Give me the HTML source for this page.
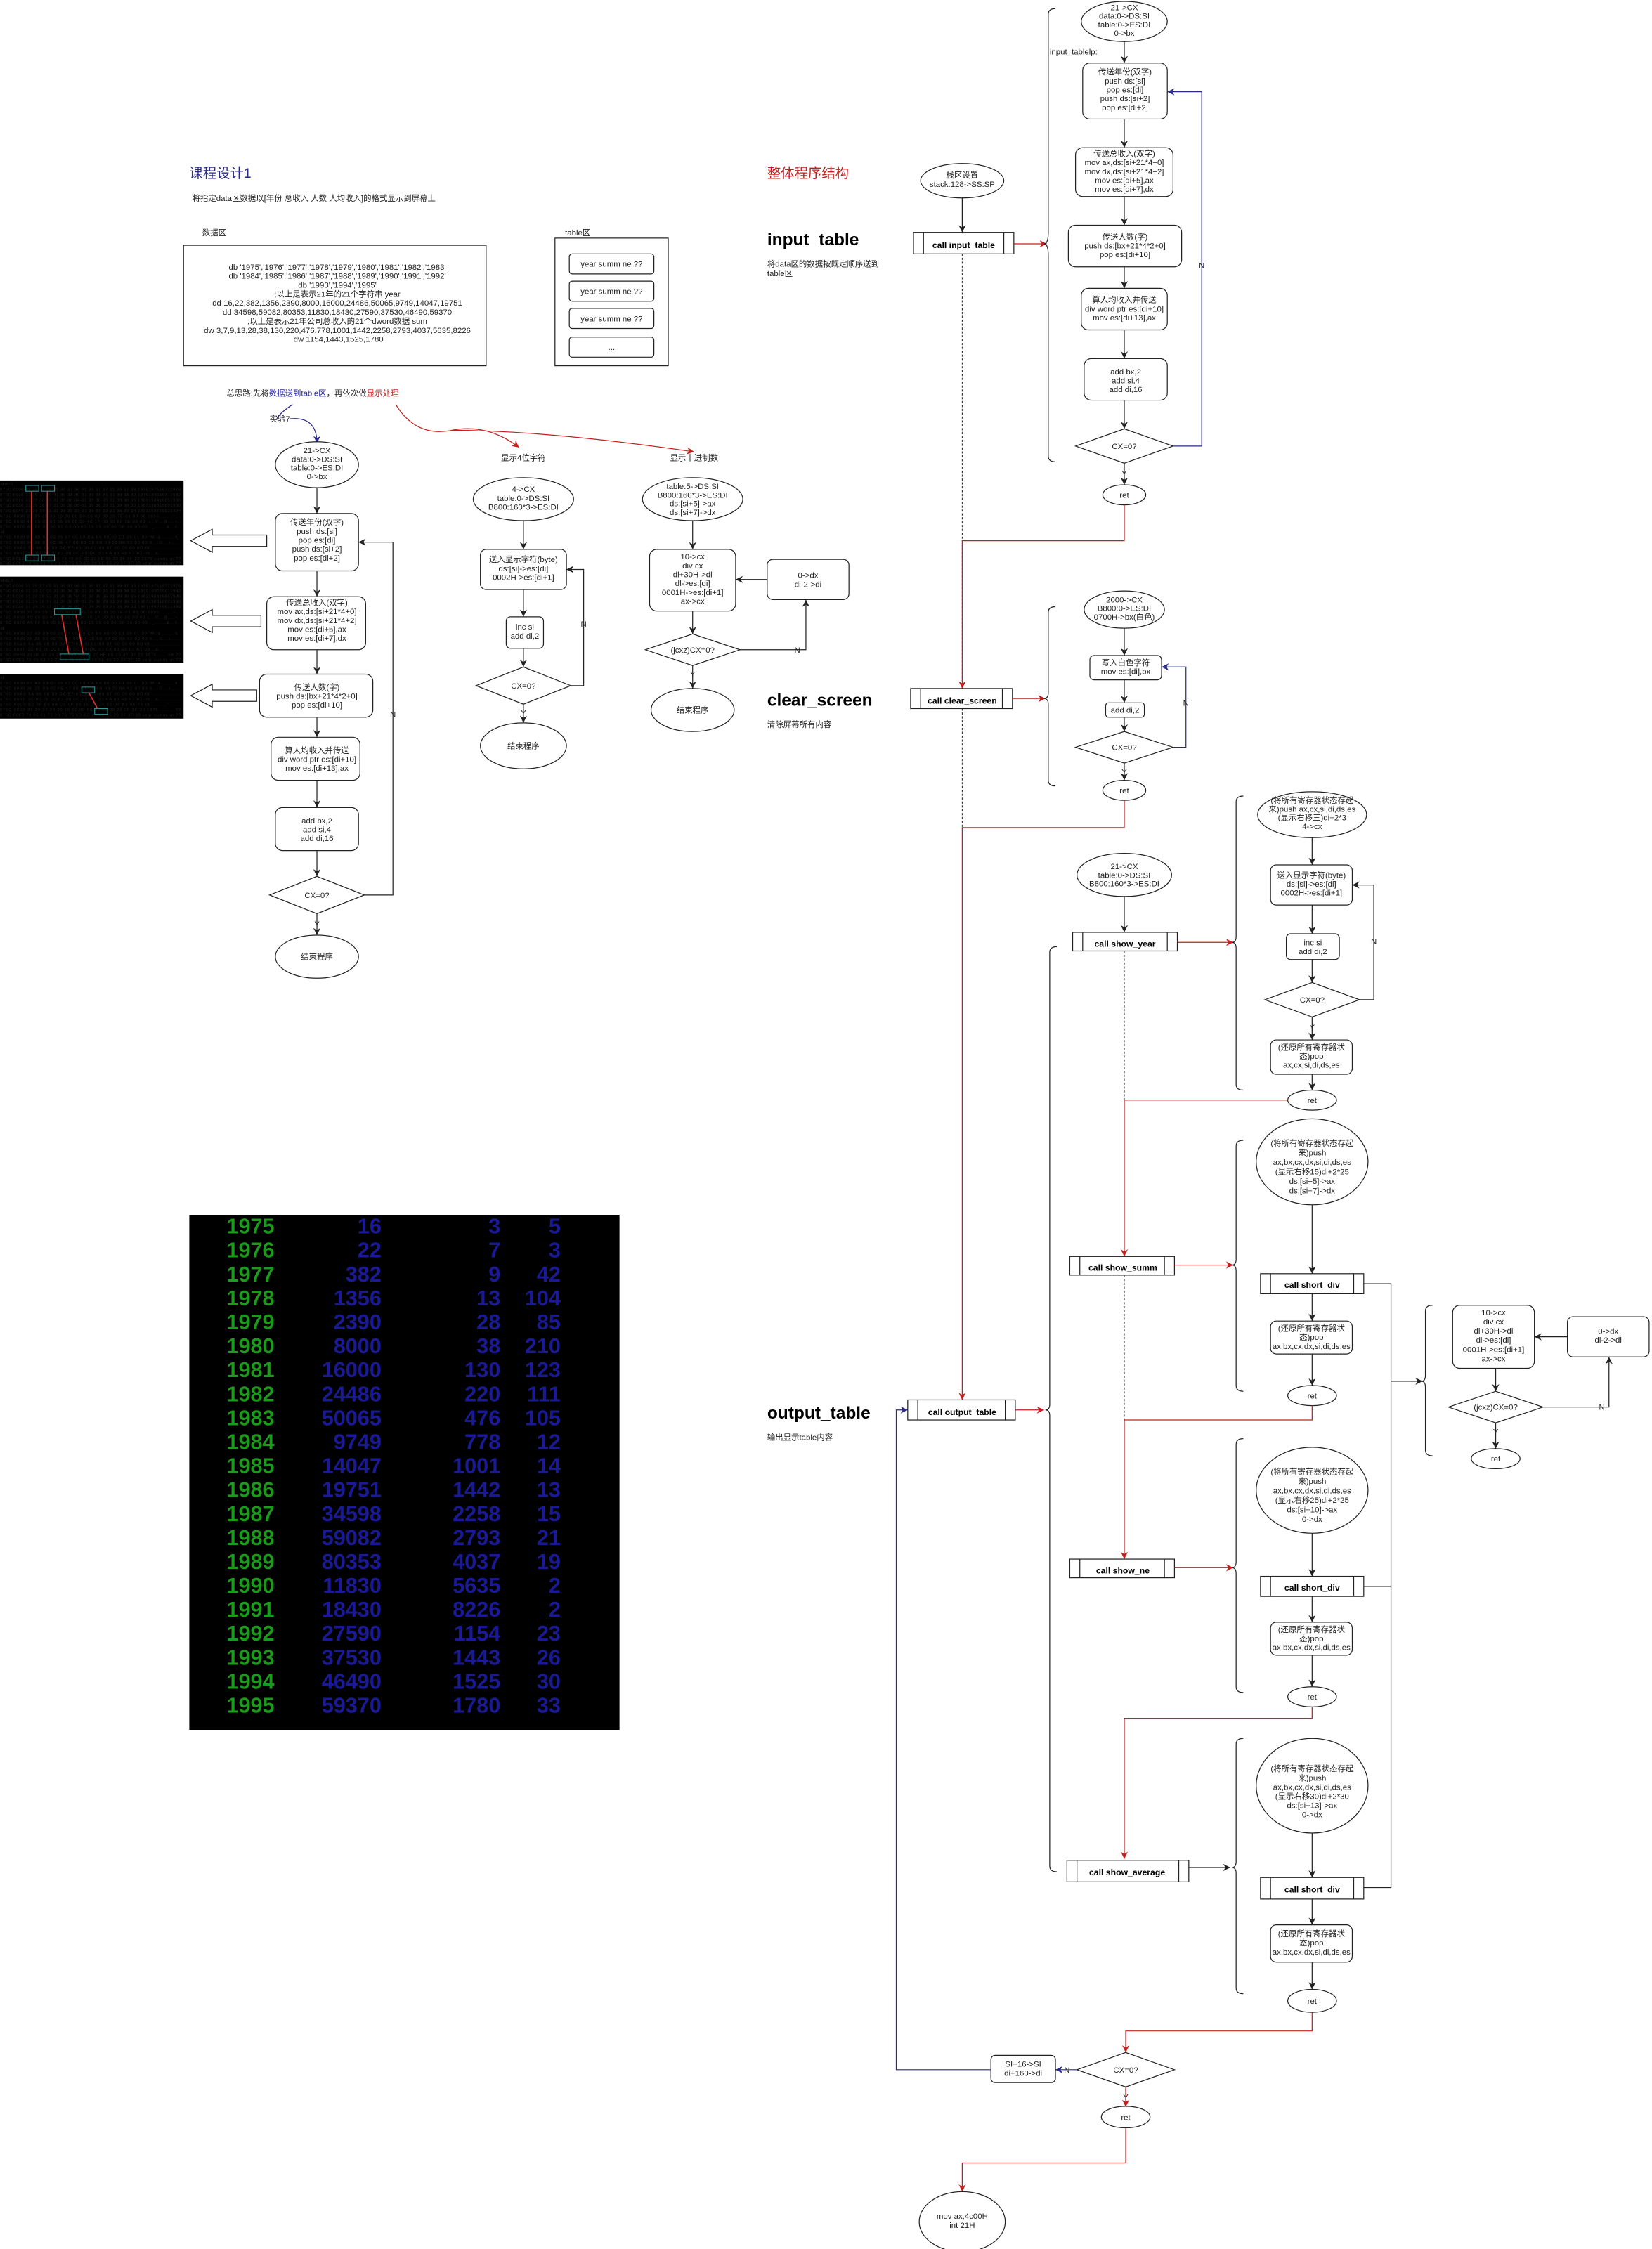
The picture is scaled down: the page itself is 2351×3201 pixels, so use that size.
<!DOCTYPE html>
<html><head><meta charset="utf-8">
<style>
html,body{margin:0;padding:0;background:#fff;}
svg{display:block;}
text{font-family:"Liberation Sans","Noto Sans CJK SC",sans-serif;fill:#222;}
.s{font-size:5.6px;}
.c{text-anchor:middle;}
.b{font-weight:bold;fill:#000;}
.box{fill:#fff;stroke:#222;stroke-width:0.6;}
.ln{fill:none;stroke:#222;stroke-width:0.6;}
.rd{fill:none;stroke:#c0201e;stroke-width:0.6;}
.bl{fill:none;stroke:#2a2a8a;stroke-width:0.6;}
.ds{fill:none;stroke:#222;stroke-width:0.5;stroke-dasharray:1.5,1.2;}
.hex{font-family:"Liberation Mono",monospace;font-size:2.9px;fill:#d8d8d8;}
.tb{font-family:"Liberation Mono",monospace;font-size:15px;font-weight:bold;}
.g{fill:#1c9a1c;}
.u{fill:#1a1a96;text-anchor:end;}
</style></head><body>
<svg width="2351" height="3201" viewBox="0 0 1152 1568" preserveAspectRatio="none" xmlns="http://www.w3.org/2000/svg">
<defs>
<marker id="ak" markerWidth="6" markerHeight="6" refX="5" refY="3" orient="auto" markerUnits="userSpaceOnUse"><path d="M0,0.5 L5,3 L0,5.5 L1.5,3z" fill="#222"/></marker>
<marker id="ar" markerWidth="6" markerHeight="6" refX="5" refY="3" orient="auto" markerUnits="userSpaceOnUse"><path d="M0,0.5 L5,3 L0,5.5 L1.5,3z" fill="#c0201e"/></marker>
<marker id="ab" markerWidth="6" markerHeight="6" refX="5" refY="3" orient="auto" markerUnits="userSpaceOnUse"><path d="M0,0.5 L5,3 L0,5.5 L1.5,3z" fill="#2a2a8a"/></marker>
</defs>

<text x="132" y="124" style="font-size:9.5px;fill:#2a2a8a">课程设计1</text>
<text x="134" y="140" class="s">将指定data区数据以[年份 总收入 人数 人均收入]的格式显示到屏幕上</text>
<text x="141" y="164" class="s">数据区</text>
<rect x="128" y="171" width="211" height="84" class="box"/>
<text class="s c" x="236" y="188">db  '1975','1976','1977','1978','1979','1980','1981','1982','1983'
<tspan x="236" dy="6.3">db  '1984','1985','1986','1987','1988','1989','1990','1991','1992'</tspan>
<tspan x="236" dy="6.3">db  '1993','1994','1995'</tspan>
<tspan x="236" dy="6.3">;以上是表示21年的21个字符串 year</tspan>
<tspan x="236" dy="6.3">dd  16,22,382,1356,2390,8000,16000,24486,50065,9749,14047,19751</tspan>
<tspan x="236" dy="6.3">dd  34598,59082,80353,11830,18430,27590,37530,46490,59370</tspan>
<tspan x="236" dy="6.3">;以上是表示21年公司总收入的21个dword数据  sum</tspan>
<tspan x="236" dy="6.3">dw  3,7,9,13,28,38,130,220,476,778,1001,1442,2258,2793,4037,5635,8226</tspan>
<tspan x="236" dy="6.3">dw  1154,1443,1525,1780</tspan></text>

<text x="394" y="164" class="s">table区</text>
<rect x="387" y="166" width="79" height="89" class="box"/>
<rect x="397" y="177" width="59" height="14" rx="2" class="box"/><text class="s c" x="426.5" y="186">year summ ne ??</text>
<rect x="397" y="196" width="59" height="14" rx="2" class="box"/><text class="s c" x="426.5" y="205">year summ ne ??</text>
<rect x="397" y="215" width="59" height="14" rx="2" class="box"/><text class="s c" x="426.5" y="224">year summ ne ??</text>
<rect x="397" y="235" width="59" height="14" rx="2" class="box"/><text class="s c" x="426.5" y="244">...</text>

<text x="158" y="276" class="s">总思路:先将<tspan style="fill:#2a2a9a">数据送到table区</tspan>，再依次做<tspan style="fill:#c0201e">显示处理</tspan></text>
<path d="M204,282 Q195,288 193,292" class="bl"/>
<text x="188" y="294" class="s">实验7</text>
<path d="M202,292 Q221,290 221,309" class="bl" marker-end="url(#ab)"/>
<path d="M276,282 Q290,305 315,300 Q340,295 362,312" class="rd" marker-end="url(#ar)"/>
<path d="M315,300 Q380,300 484,315" class="rd" marker-end="url(#ar)"/>
<text x="365" y="321" class="s c">显示4位字符</text>
<text x="484" y="321" class="s c">显示十进制数</text>

<g>
<rect x="0" y="335" width="128" height="59" fill="#000"/>
<rect x="0" y="402" width="128" height="60" fill="#000"/>
<rect x="0" y="470" width="128" height="31" fill="#000"/>
<g class="hex">
<text x="0" y="338.5">-d ds:0</text>
<text x="0" y="342.2" textLength="126">076C:0000  31 39 37 35 31 39 37 36-31 39 37 37 31 39 37 38   1975197619771978</text>
<text x="0" y="345.9" textLength="126">076C:0010  31 39 37 39 31 39 38 30-31 39 38 31 31 39 38 32   1979198019811982</text>
<text x="0" y="349.6" textLength="126">076C:0020  31 39 38 33 31 39 38 34-31 39 38 35 31 39 38 36   1983198419851986</text>
<text x="0" y="353.3" textLength="126">076C:0030  31 39 38 37 31 39 38 38-31 39 38 39 31 39 39 30   1987198819891990</text>
<text x="0" y="357" textLength="126">076C:0040  31 39 39 31 31 39 39 32-31 39 39 33 31 39 39 34   1991199219931994</text>
<text x="0" y="360.7" textLength="126">076C:0050  31 39 39 35 10 00 00 00-16 00 00 00 7E 01 00 00   1995........~...</text>
<text x="0" y="364.4" textLength="126">076C:0060  4C 05 00 00 56 09 00 00-40 1F 00 00 80 3E 00 00   L...V...@....&gt;..</text>
<text x="0" y="368.1" textLength="126">076C:0070  A6 5F 00 00 91 C3 00 00-15 26 00 00 DF 36 00 00   ._.......&amp;...6..</text>
<text x="0" y="371.8">-d</text>
<text x="0" y="375.5" textLength="126">076C:0080  27 4D 00 00 26 87 00 00-CA B6 00 00 E1 39 01 00   'M..&amp;........9..</text>
<text x="0" y="379.2" textLength="126">076C:0090  36 2E 00 00 FE 47 00 00-C6 6B 00 00 9A 92 00 00   6....G...k......</text>
<text x="0" y="382.9" textLength="126">076C:00A0  9A B5 00 00 DA E7 00 00-03 00 07 00 09 00 0D 00   ................</text>
<text x="0" y="386.6" textLength="126">076C:00B0  1C 00 26 00 82 00 DC 00-DC 01 0A 03 E9 03 A2 05   ..&amp;.............</text>
<text x="0" y="390.3" textLength="126">076C:00E0  31 39 37 35 20 73 75 6D-6D 20 6E 65 20 3F 3F 20   1975 summ ne ?? </text>
<text x="0" y="393.5" textLength="126">076C:00F0  79 65 61 72 20 73 75 6D-6D 20 6E 65 20 3F 3F 20   year summ ne ?? </text>
<text x="0" y="405.5">-d ds:0</text>
<text x="0" y="409.2" textLength="126">076C:0000  31 39 37 35 31 39 37 36-31 39 37 37 31 39 37 38   1975197619771978</text>
<text x="0" y="412.9" textLength="126">076C:0010  31 39 37 39 31 39 38 30-31 39 38 31 31 39 38 32   1979198019811982</text>
<text x="0" y="416.6" textLength="126">076C:0020  31 39 38 33 31 39 38 34-31 39 38 35 31 39 38 36   1983198419851986</text>
<text x="0" y="420.3" textLength="126">076C:0030  31 39 38 37 31 39 38 38-31 39 38 39 31 39 39 30   1987198819891990</text>
<text x="0" y="424" textLength="126">076C:0040  31 39 39 31 31 39 39 32-31 39 39 33 31 39 39 34   1991199219931994</text>
<text x="0" y="427.7" textLength="126">076C:0050  31 39 39 35 10 00 00 00-16 00 00 00 7E 01 00 00   1995........~...</text>
<text x="0" y="431.4" textLength="126">076C:0060  4C 05 00 00 56 09 00 00-40 1F 00 00 80 3E 00 00   L...V...@....&gt;..</text>
<text x="0" y="435.1" textLength="126">076C:0070  A6 5F 00 00 91 C3 00 00-15 26 00 00 DF 36 00 00   ._.......&amp;...6..</text>
<text x="0" y="438.8">-d</text>
<text x="0" y="442.5" textLength="126">076C:0080  27 4D 00 00 26 87 00 00-CA B6 00 00 E1 39 01 00   'M..&amp;........9..</text>
<text x="0" y="446.2" textLength="126">076C:0090  36 2E 00 00 FE 47 00 00-C6 6B 00 00 9A 92 00 00   6....G...k......</text>
<text x="0" y="449.9" textLength="126">076C:00A0  9A B5 00 00 DA E7 00 00-03 00 07 00 09 00 0D 00   ................</text>
<text x="0" y="453.6" textLength="126">076C:00B0  1C 00 26 00 82 00 DC 00-DC 01 0A 03 E9 03 A2 05   ..&amp;.............</text>
<text x="0" y="457.3" textLength="126">076C:00E0  31 39 37 35 20 10 00 00-00 20 6E 65 20 3F 3F 20   1975 ..... ne ??</text>
<text x="0" y="461" textLength="126">076C:00F0  79 65 61 72 20 73 75 6D-6D 20 6E 65 20 3F 3F 20   year summ ne ?? </text>
<text x="0" y="473.5">-d</text>
<text x="0" y="477.2" textLength="126">076C:0080  27 4D 00 00 26 87 00 00-CA B6 00 00 E1 39 01 00   'M..&amp;........9..</text>
<text x="0" y="480.9" textLength="126">076C:0090  36 2E 00 00 FE 47 00 00-C6 6B 00 00 9A 92 00 00   6....G...k......</text>
<text x="0" y="484.6" textLength="126">076C:00A0  9A B5 00 00 DA E7 00 00-03 00 07 00 09 00 0D 00   ................</text>
<text x="0" y="488.3" textLength="126">076C:00B0  1C 00 26 00 82 00 DC 00-DC 01 0A 03 E9 03 A2 05   ..&amp;.............</text>
<text x="0" y="492" textLength="126">076C:00C0  B2 00 E9 0A C5 0F 83 16-22 20 B2 04 A3 05 F5 05   ........" ......</text>
<text x="0" y="495.7" textLength="126">076C:00E0  31 39 37 35 20 10 00 00-00 20 03 00 20 3F 3F 20   1975 ..... .. ??</text>
<text x="0" y="499.4" textLength="126">076C:00F0  79 65 61 72 20 73 75 6D-6D 20 6E 65 20 3F 3F 20   year summ ne ?? </text>
</g>
<rect x="18" y="338.5" width="9" height="4" fill="none" stroke="#2a9a9a" stroke-width="0.5"/>
<rect x="29" y="338.5" width="9" height="4" fill="none" stroke="#2a9a9a" stroke-width="0.5"/>
<rect x="18" y="387" width="9" height="4" fill="none" stroke="#2a9a9a" stroke-width="0.5"/>
<rect x="29" y="387" width="9" height="4" fill="none" stroke="#2a9a9a" stroke-width="0.5"/>
<line x1="22" y1="342.5" x2="22" y2="387" stroke="#e03030" stroke-width="0.8"/>
<line x1="33" y1="342.5" x2="33" y2="387" stroke="#e03030" stroke-width="0.8"/>
<rect x="38" y="424.5" width="18" height="4" fill="none" stroke="#2a9a9a" stroke-width="0.5"/>
<rect x="42" y="456" width="20" height="4" fill="none" stroke="#2a9a9a" stroke-width="0.5"/>
<line x1="43" y1="428.5" x2="48" y2="456" stroke="#e03030" stroke-width="0.8"/>
<line x1="53" y1="428.5" x2="58" y2="456" stroke="#e03030" stroke-width="0.8"/>
<rect x="57" y="479" width="9" height="4" fill="none" stroke="#2a9a9a" stroke-width="0.5"/>
<rect x="66" y="494" width="9" height="4" fill="none" stroke="#2a9a9a" stroke-width="0.5"/>
<line x1="62" y1="483" x2="68" y2="494" stroke="#e03030" stroke-width="0.8"/>
</g>
<path d="M133,377 L148,369 L148,373 L186,373 L186,381 L148,381 L148,385 Z" fill="#fff" stroke="#222" stroke-width="0.6"/>
<path d="M133,433 L148,425 L148,429 L182,429 L182,437 L148,437 L148,441 Z" fill="#fff" stroke="#222" stroke-width="0.6"/>
<path d="M133,485 L148,477 L148,481 L179,481 L179,489 L148,489 L148,493 Z" fill="#fff" stroke="#222" stroke-width="0.6"/>

<ellipse cx="221" cy="324" rx="29" ry="16" class="box"/>
<text class="s c" x="221" y="316">21-&gt;CX<tspan x="221" dy="6">data:0-&gt;DS:SI</tspan><tspan x="221" dy="6">table:0-&gt;ES:DI</tspan><tspan x="221" dy="6">0-&gt;bx</tspan></text>
<line x1="221" y1="340" x2="221" y2="358" class="ln" marker-end="url(#ak)"/>
<rect x="192" y="358" width="58" height="40" rx="5" class="box"/>
<text class="s c" x="221" y="366">传送年份(双字)<tspan x="221" dy="6.2">push ds:[si]</tspan><tspan x="221" dy="6.2">pop es:[di]</tspan><tspan x="221" dy="6.2">push ds:[si+2]</tspan><tspan x="221" dy="6.2">pop es:[di+2]</tspan></text>
<line x1="221" y1="398" x2="221" y2="416" class="ln" marker-end="url(#ak)"/>
<rect x="186" y="416" width="69" height="37" rx="5" class="box"/>
<text class="s c" x="221" y="422">传送总收入(双字)<tspan x="221" dy="6.2">mov ax,ds:[si+21*4+0]</tspan><tspan x="221" dy="6.2">mov dx,ds:[si+21*4+2]</tspan><tspan x="221" dy="6.2">mov es:[di+5],ax</tspan><tspan x="221" dy="6.2">mov es:[di+7],dx</tspan></text>
<line x1="221" y1="453" x2="221" y2="470" class="ln" marker-end="url(#ak)"/>
<rect x="181" y="470" width="79" height="30" rx="5" class="box"/>
<text class="s c" x="221" y="481">传送人数(字)<tspan x="221" dy="6.2">push ds:[bx+21*4*2+0]</tspan><tspan x="221" dy="6.2">pop es:[di+10]</tspan></text>
<line x1="221" y1="500" x2="221" y2="514" class="ln" marker-end="url(#ak)"/>
<rect x="189" y="514" width="62" height="30" rx="5" class="box"/>
<text class="s c" x="221" y="525">算人均收入并传送<tspan x="221" dy="6.2">div word ptr es:[di+10]</tspan><tspan x="221" dy="6.2">mov es:[di+13],ax</tspan></text>
<line x1="221" y1="544" x2="221" y2="563" class="ln" marker-end="url(#ak)"/>
<rect x="192" y="563" width="58" height="30" rx="5" class="box"/>
<text class="s c" x="221" y="574">add bx,2<tspan x="221" dy="6.2">add si,4</tspan><tspan x="221" dy="6.2">add di,16</tspan></text>
<line x1="221" y1="593" x2="221" y2="611" class="ln" marker-end="url(#ak)"/>
<path d="M188,624 L221,611 L254,624 L221,637 Z" class="box"/>
<text class="s c" x="221" y="626">CX=0?</text>
<line x1="221" y1="637" x2="221" y2="652" class="ln" marker-end="url(#ak)"/>
<text class="s c" x="221" y="646">Y</text>
<ellipse cx="221" cy="667" rx="29" ry="15" class="box"/>
<text class="s c" x="221" y="669">结束程序</text>
<polyline points="254,624 274,624 274,378 250,378" class="ln" marker-end="url(#ak)"/>
<text class="s c" x="274" y="500">N</text>

<ellipse cx="365" cy="348" rx="35" ry="15" class="box"/>
<text class="s c" x="365" y="343">4-&gt;CX<tspan x="365" dy="6.2">table:0-&gt;DS:SI</tspan><tspan x="365" dy="6.2">B800:160*3-&gt;ES:DI</tspan></text>
<line x1="365" y1="363" x2="365" y2="383" class="ln" marker-end="url(#ak)"/>
<rect x="335" y="383" width="60" height="28" rx="4" class="box"/>
<text class="s c" x="365" y="392">送入显示字符(byte)<tspan x="365" dy="6.2">ds:[si]-&gt;es:[di]</tspan><tspan x="365" dy="6.2">0002H-&gt;es:[di+1]</tspan></text>
<line x1="365" y1="411" x2="365" y2="430" class="ln" marker-end="url(#ak)"/>
<rect x="353" y="430" width="26" height="22" rx="3" class="box"/>
<text class="s c" x="366" y="439">inc si<tspan x="366" dy="6.2">add di,2</tspan></text>
<line x1="365" y1="452" x2="365" y2="465" class="ln" marker-end="url(#ak)"/>
<path d="M332,478 L365,465 L398,478 L365,491 Z" class="box"/>
<text class="s c" x="365" y="480">CX=0?</text>
<line x1="365" y1="491" x2="365" y2="504" class="ln" marker-end="url(#ak)"/>
<text class="s c" x="365" y="499">Y</text>
<ellipse cx="365" cy="520" rx="30" ry="16" class="box"/>
<text class="s c" x="365" y="522">结束程序</text>
<polyline points="398,478 407,478 407,397 395,397" class="ln" marker-end="url(#ak)"/>
<text class="s c" x="407" y="437">N</text>

<ellipse cx="483" cy="348" rx="35" ry="15" class="box"/>
<text class="s c" x="483" y="341">table:5-&gt;DS:SI<tspan x="483" dy="6">B800:160*3-&gt;ES:DI</tspan><tspan x="483" dy="6">ds:[si+5]-&gt;ax</tspan><tspan x="483" dy="6">ds:[si+7]-&gt;dx</tspan></text>
<line x1="483" y1="363" x2="483" y2="383" class="ln" marker-end="url(#ak)"/>
<rect x="453" y="383" width="60" height="43" rx="5" class="box"/>
<text class="s c" x="483" y="390">10-&gt;cx<tspan x="483" dy="6.2">div cx</tspan><tspan x="483" dy="6.2">dl+30H-&gt;dl</tspan><tspan x="483" dy="6.2">dl-&gt;es:[di]</tspan><tspan x="483" dy="6.2">0001H-&gt;es:[di+1]</tspan><tspan x="483" dy="6.2">ax-&gt;cx</tspan></text>
<rect x="535" y="390" width="57" height="28" rx="4" class="box"/>
<text class="s c" x="563.5" y="403">0-&gt;dx<tspan x="563.5" dy="6.2">di-2-&gt;di</tspan></text>
<line x1="535" y1="404" x2="513" y2="404" class="ln" marker-end="url(#ak)"/>
<line x1="483" y1="426" x2="483" y2="442" class="ln" marker-end="url(#ak)"/>
<path d="M450,453 L483,442 L516,453 L483,464 Z" class="box"/>
<text class="s c" x="483" y="455">(jcxz)CX=0?</text>
<polyline points="516,453 562,453 562,418" class="ln" marker-end="url(#ak)"/>
<text class="s c" x="556" y="455">N</text>
<line x1="483" y1="464" x2="483" y2="480" class="ln" marker-end="url(#ak)"/>
<text class="s c" x="483" y="472">Y</text>
<ellipse cx="483" cy="495" rx="29" ry="15" class="box"/>
<text class="s c" x="483" y="497">结束程序</text>

<rect x="132" y="847" width="300" height="359" fill="#000"/>
<g class="tb">
<text class="g" x="158" y="860">1975</text><text class="u" x="266" y="860">16</text><text class="u" x="349" y="860">3</text><text class="u" x="391" y="860">5</text>
<text class="g" x="158" y="876.7">1976</text><text class="u" x="266" y="876.7">22</text><text class="u" x="349" y="876.7">7</text><text class="u" x="391" y="876.7">3</text>
<text class="g" x="158" y="893.4">1977</text><text class="u" x="266" y="893.4">382</text><text class="u" x="349" y="893.4">9</text><text class="u" x="391" y="893.4">42</text>
<text class="g" x="158" y="910.1">1978</text><text class="u" x="266" y="910.1">1356</text><text class="u" x="349" y="910.1">13</text><text class="u" x="391" y="910.1">104</text>
<text class="g" x="158" y="926.8">1979</text><text class="u" x="266" y="926.8">2390</text><text class="u" x="349" y="926.8">28</text><text class="u" x="391" y="926.8">85</text>
<text class="g" x="158" y="943.5">1980</text><text class="u" x="266" y="943.5">8000</text><text class="u" x="349" y="943.5">38</text><text class="u" x="391" y="943.5">210</text>
<text class="g" x="158" y="960.2">1981</text><text class="u" x="266" y="960.2">16000</text><text class="u" x="349" y="960.2">130</text><text class="u" x="391" y="960.2">123</text>
<text class="g" x="158" y="976.9">1982</text><text class="u" x="266" y="976.9">24486</text><text class="u" x="349" y="976.9">220</text><text class="u" x="391" y="976.9">111</text>
<text class="g" x="158" y="993.6">1983</text><text class="u" x="266" y="993.6">50065</text><text class="u" x="349" y="993.6">476</text><text class="u" x="391" y="993.6">105</text>
<text class="g" x="158" y="1010.3">1984</text><text class="u" x="266" y="1010.3">9749</text><text class="u" x="349" y="1010.3">778</text><text class="u" x="391" y="1010.3">12</text>
<text class="g" x="158" y="1027">1985</text><text class="u" x="266" y="1027">14047</text><text class="u" x="349" y="1027">1001</text><text class="u" x="391" y="1027">14</text>
<text class="g" x="158" y="1043.7">1986</text><text class="u" x="266" y="1043.7">19751</text><text class="u" x="349" y="1043.7">1442</text><text class="u" x="391" y="1043.7">13</text>
<text class="g" x="158" y="1060.4">1987</text><text class="u" x="266" y="1060.4">34598</text><text class="u" x="349" y="1060.4">2258</text><text class="u" x="391" y="1060.4">15</text>
<text class="g" x="158" y="1077.1">1988</text><text class="u" x="266" y="1077.1">59082</text><text class="u" x="349" y="1077.1">2793</text><text class="u" x="391" y="1077.1">21</text>
<text class="g" x="158" y="1093.8">1989</text><text class="u" x="266" y="1093.8">80353</text><text class="u" x="349" y="1093.8">4037</text><text class="u" x="391" y="1093.8">19</text>
<text class="g" x="158" y="1110.5">1990</text><text class="u" x="266" y="1110.5">11830</text><text class="u" x="349" y="1110.5">5635</text><text class="u" x="391" y="1110.5">2</text>
<text class="g" x="158" y="1127.2">1991</text><text class="u" x="266" y="1127.2">18430</text><text class="u" x="349" y="1127.2">8226</text><text class="u" x="391" y="1127.2">2</text>
<text class="g" x="158" y="1143.9">1992</text><text class="u" x="266" y="1143.9">27590</text><text class="u" x="349" y="1143.9">1154</text><text class="u" x="391" y="1143.9">23</text>
<text class="g" x="158" y="1160.6">1993</text><text class="u" x="266" y="1160.6">37530</text><text class="u" x="349" y="1160.6">1443</text><text class="u" x="391" y="1160.6">26</text>
<text class="g" x="158" y="1177.3">1994</text><text class="u" x="266" y="1177.3">46490</text><text class="u" x="349" y="1177.3">1525</text><text class="u" x="391" y="1177.3">30</text>
<text class="g" x="158" y="1194">1995</text><text class="u" x="266" y="1194">59370</text><text class="u" x="349" y="1194">1780</text><text class="u" x="391" y="1194">33</text>
</g>

<text x="535" y="124" style="font-size:9.5px;fill:#c0201e">整体程序结构</text>
<text x="535" y="171" class="b" style="font-size:12px">input_table</text>
<text x="535" y="186" class="s">将data区的数据按既定顺序送到<tspan x="535" dy="6.5">table区</tspan></text>
<text x="535" y="492" class="b" style="font-size:12px">clear_screen</text>
<text x="535" y="507" class="s">清除屏幕所有内容</text>
<text x="535" y="989" class="b" style="font-size:12px">output_table</text>
<text x="535" y="1004" class="s">输出显示table内容</text>

<ellipse cx="671" cy="126" rx="29" ry="12" class="box"/>
<text class="s c" x="671" y="124">栈区设置<tspan x="671" dy="6.3">stack:128-&gt;SS:SP</tspan></text>
<line x1="671" y1="138" x2="671" y2="162" class="ln" marker-end="url(#ak)"/>
<rect x="637" y="162" width="70" height="15" class="box"/>
<line x1="644" y1="162" x2="644" y2="177" class="ln"/><line x1="700" y1="162" x2="700" y2="177" class="ln"/>
<text class="s c b" x="672" y="173" style="font-size:6px">call input_table</text>
<line x1="707" y1="170" x2="730" y2="170" class="rd" marker-end="url(#ar)"/>
<line x1="671" y1="177" x2="671" y2="480" class="ds"/>

<path d="M736,6 Q731,6 731,10 L731,162 Q731,170 728,170 Q731,170 731,178 L731,318 Q731,322 736,322" class="ln"/>
<ellipse cx="784" cy="15" rx="30" ry="14" class="box"/>
<text class="s c" x="784" y="7">21-&gt;CX<tspan x="784" dy="6">data:0-&gt;DS:SI</tspan><tspan x="784" dy="6">table:0-&gt;ES:DI</tspan><tspan x="784" dy="6">0-&gt;bx</tspan></text>
<text class="s" x="732" y="38">input_tablelp:</text>
<line x1="784" y1="29" x2="784" y2="44" class="ln" marker-end="url(#ak)"/>
<rect x="755" y="44" width="59" height="39" rx="5" class="box"/>
<text class="s c" x="784.5" y="52">传送年份(双字)<tspan x="784.5" dy="6.2">push ds:[si]</tspan><tspan x="784.5" dy="6.2">pop es:[di]</tspan><tspan x="784.5" dy="6.2">push ds:[si+2]</tspan><tspan x="784.5" dy="6.2">pop es:[di+2]</tspan></text>
<line x1="784" y1="83" x2="784" y2="103" class="ln" marker-end="url(#ak)"/>
<rect x="750" y="103" width="68" height="34" rx="5" class="box"/>
<text class="s c" x="784" y="109">传送总收入(双字)<tspan x="784" dy="6.2">mov ax,ds:[si+21*4+0]</tspan><tspan x="784" dy="6.2">mov dx,ds:[si+21*4+2]</tspan><tspan x="784" dy="6.2">mov es:[di+5],ax</tspan><tspan x="784" dy="6.2">mov es:[di+7],dx</tspan></text>
<line x1="784" y1="137" x2="784" y2="157" class="ln" marker-end="url(#ak)"/>
<rect x="745" y="157" width="79" height="29" rx="5" class="box"/>
<text class="s c" x="784.5" y="167">传送人数(字)<tspan x="784.5" dy="6.2">push ds:[bx+21*4*2+0]</tspan><tspan x="784.5" dy="6.2">pop es:[di+10]</tspan></text>
<line x1="784" y1="186" x2="784" y2="201" class="ln" marker-end="url(#ak)"/>
<rect x="754" y="201" width="60" height="29" rx="5" class="box"/>
<text class="s c" x="784" y="211">算人均收入并传送<tspan x="784" dy="6.2">div word ptr es:[di+10]</tspan><tspan x="784" dy="6.2">mov es:[di+13],ax</tspan></text>
<line x1="784" y1="230" x2="784" y2="250" class="ln" marker-end="url(#ak)"/>
<rect x="756" y="250" width="58" height="29" rx="5" class="box"/>
<text class="s c" x="785" y="261">add bx,2<tspan x="785" dy="6.2">add si,4</tspan><tspan x="785" dy="6.2">add di,16</tspan></text>
<line x1="784" y1="279" x2="784" y2="299" class="ln" marker-end="url(#ak)"/>
<path d="M750,311 L784,299 L818,311 L784,323 Z" class="box"/>
<text class="s c" x="784" y="313">CX=0?</text>
<line x1="784" y1="323" x2="784" y2="338" class="ln" marker-end="url(#ak)"/>
<text class="s c" x="784" y="332">Y</text>
<ellipse cx="784" cy="345" rx="15" ry="7" class="box"/>
<text class="s c" x="784" y="347">ret</text>
<polyline points="818,311 838,311 838,64 814,64" class="bl" marker-end="url(#ab)"/>
<text class="s c" x="838" y="187">N</text>
<polyline points="784,352 784,377 671,377 671,480" class="rd" marker-end="url(#ar)"/>

<rect x="635" y="480" width="71" height="14" class="box"/>
<line x1="642" y1="480" x2="642" y2="494" class="ln"/><line x1="699" y1="480" x2="699" y2="494" class="ln"/>
<text class="s c b" x="671" y="490.5" style="font-size:6px">call clear_screen</text>
<line x1="706" y1="487" x2="729" y2="487" class="rd" marker-end="url(#ar)"/>
<line x1="671" y1="494" x2="671" y2="577" class="ds"/>
<path d="M736,423 Q731,423 731,427 L731,483 Q731,487 728,487 Q731,487 731,491 L731,544 Q731,548 736,548" class="ln"/>
<ellipse cx="784" cy="425" rx="28" ry="13" class="box"/>
<text class="s c" x="784" y="420">2000-&gt;CX<tspan x="784" dy="6">B800:0-&gt;ES:DI</tspan><tspan x="784" dy="6">0700H-&gt;bx(白色)</tspan></text>
<line x1="784" y1="438" x2="784" y2="457" class="ln" marker-end="url(#ak)"/>
<rect x="760" y="457" width="50" height="17" rx="3" class="box"/>
<text class="s c" x="785" y="464">写入白色字符<tspan x="785" dy="6">mov es:[di],bx</tspan></text>
<line x1="784" y1="474" x2="784" y2="490" class="ln" marker-end="url(#ak)"/>
<rect x="771" y="490" width="27" height="10" rx="2" class="box"/>
<text class="s c" x="784.5" y="497">add di,2</text>
<line x1="784" y1="500" x2="784" y2="510" class="ln" marker-end="url(#ak)"/>
<path d="M750,521 L784,510 L818,521 L784,532 Z" class="box"/>
<text class="s c" x="784" y="523">CX=0?</text>
<line x1="784" y1="532" x2="784" y2="544" class="ln" marker-end="url(#ak)"/>
<text class="s c" x="784" y="540">Y</text>
<ellipse cx="784" cy="551" rx="15" ry="7" class="box"/>
<text class="s c" x="784" y="553">ret</text>
<polyline points="818,521 827,521 827,465 810,465" class="bl" marker-end="url(#ab)"/>
<text class="s c" x="827" y="492">N</text>
<polyline points="784,558 784,577 671,577 671,976" class="rd" marker-end="url(#ar)"/>

<rect x="633" y="976" width="75" height="14" class="box"/>
<line x1="640" y1="976" x2="640" y2="990" class="ln"/><line x1="701" y1="976" x2="701" y2="990" class="ln"/>
<text class="s c b" x="671" y="986.5" style="font-size:6px">call output_table</text>
<line x1="708" y1="983" x2="728" y2="983" class="rd" marker-end="url(#ar)"/>
<path d="M737,660 Q732,660 732,664 L732,979 Q732,983 729,983 Q732,983 732,987 L732,1301 Q732,1305 737,1305" class="ln"/>
<polyline points="691,1443 625,1443 625,983 633,983" class="bl" marker-end="url(#ab)"/>

<ellipse cx="784" cy="610" rx="33" ry="15" class="box"/>
<text class="s c" x="784" y="606">21-&gt;CX<tspan x="784" dy="6">table:0-&gt;DS:SI</tspan><tspan x="784" dy="6">B800:160*3-&gt;ES:DI</tspan></text>
<line x1="784" y1="625" x2="784" y2="650" class="ln" marker-end="url(#ak)"/>
<rect x="748" y="650" width="73" height="13" class="box"/>
<line x1="755" y1="650" x2="755" y2="663" class="ln"/><line x1="814" y1="650" x2="814" y2="663" class="ln"/>
<text class="s c b" x="784.5" y="660" style="font-size:6px">call show_year</text>
<line x1="821" y1="657" x2="860" y2="657" class="rd" marker-end="url(#ar)"/>
<line x1="784" y1="663" x2="784" y2="767" class="ds"/>

<path d="M867,555 Q862,555 862,559 L862,653 Q862,657 859,657 Q862,657 862,661 L862,756 Q862,760 867,760" class="ln"/>
<ellipse cx="915" cy="568" rx="38" ry="16" class="box"/>
<text class="s c" x="915" y="560">(将所有寄存器状态存起<tspan x="915" dy="6">来)push ax,cx,si,di,ds,es</tspan><tspan x="915" dy="6">(显示右移三)di+2*3</tspan><tspan x="915" dy="6">4-&gt;cx</tspan></text>
<line x1="915" y1="584" x2="915" y2="603" class="ln" marker-end="url(#ak)"/>
<rect x="886" y="603" width="57" height="28" rx="4" class="box"/>
<text class="s c" x="914.5" y="612">送入显示字符(byte)<tspan x="914.5" dy="6.2">ds:[si]-&gt;es:[di]</tspan><tspan x="914.5" dy="6.2">0002H-&gt;es:[di+1]</tspan></text>
<line x1="915" y1="631" x2="915" y2="651" class="ln" marker-end="url(#ak)"/>
<rect x="897" y="651" width="37" height="18" rx="3" class="box"/>
<text class="s c" x="915.5" y="659">inc si<tspan x="915.5" dy="6.2">add di,2</tspan></text>
<line x1="915" y1="669" x2="915" y2="685" class="ln" marker-end="url(#ak)"/>
<path d="M882,697 L915,685 L948,697 L915,709 Z" class="box"/>
<text class="s c" x="915" y="699">CX=0?</text>
<line x1="915" y1="709" x2="915" y2="725" class="ln" marker-end="url(#ak)"/>
<text class="s c" x="915" y="718">Y</text>
<rect x="886" y="725" width="57" height="24" rx="4" class="box"/>
<text class="s c" x="914.5" y="732">(还原所有寄存器状<tspan x="914.5" dy="6.2">态)pop</tspan><tspan x="914.5" dy="6.2">ax,cx,si,di,ds,es</tspan></text>
<line x1="915" y1="749" x2="915" y2="760" class="ln" marker-end="url(#ak)"/>
<ellipse cx="915" cy="767" rx="17" ry="7" class="box"/>
<text class="s c" x="915" y="769">ret</text>
<polyline points="948,697 958,697 958,617 943,617" class="ln" marker-end="url(#ak)"/>
<text class="s c" x="958" y="658">N</text>
<polyline points="898,767 784,767 784,876" class="rd" marker-end="url(#ar)"/>

<rect x="746" y="876" width="73" height="13" class="box"/>
<line x1="753" y1="876" x2="753" y2="889" class="ln"/><line x1="812" y1="876" x2="812" y2="889" class="ln"/>
<text class="s c b" x="783" y="886" style="font-size:6px">call show_summ</text>
<line x1="819" y1="882" x2="860" y2="882" class="rd" marker-end="url(#ar)"/>
<line x1="784" y1="889" x2="784" y2="990" class="ds"/>
<path d="M867,795 Q862,795 862,799 L862,878 Q862,882 859,882 Q862,882 862,886 L862,966 Q862,970 867,970" class="ln"/>
<ellipse cx="915" cy="810" rx="39" ry="30" class="box"/>
<text class="s c" x="915" y="799">(将所有寄存器状态存起<tspan x="915" dy="6.6">来)push</tspan><tspan x="915" dy="6.6">ax,bx,cx,dx,si,di,ds,es</tspan><tspan x="915" dy="6.6">(显示右移15)di+2*25</tspan><tspan x="915" dy="6.6">ds:[si+5]-&gt;ax</tspan><tspan x="915" dy="6.6">ds:[si+7]-&gt;dx</tspan></text>
<line x1="915" y1="840" x2="915" y2="888" class="ln" marker-end="url(#ak)"/>
<rect x="879" y="888" width="72" height="14" class="box"/>
<line x1="886" y1="888" x2="886" y2="902" class="ln"/><line x1="944" y1="888" x2="944" y2="902" class="ln"/>
<text class="s c b" x="915" y="898" style="font-size:6px">call short_div</text>
<line x1="915" y1="902" x2="915" y2="921" class="ln" marker-end="url(#ak)"/>
<rect x="886" y="921" width="57" height="23" rx="4" class="box"/>
<text class="s c" x="914.5" y="928">(还原所有寄存器状<tspan x="914.5" dy="6.2">态)pop</tspan><tspan x="914.5" dy="6.2">ax,bx,cx,dx,si,di,ds,es</tspan></text>
<line x1="915" y1="944" x2="915" y2="966" class="ln" marker-end="url(#ak)"/>
<ellipse cx="915" cy="973" rx="17" ry="7" class="box"/>
<text class="s c" x="915" y="975">ret</text>
<polyline points="915,980 915,990 784,990 784,1087" class="rd" marker-end="url(#ar)"/>

<rect x="746" y="1087" width="73" height="13" class="box"/>
<line x1="753" y1="1087" x2="753" y2="1100" class="ln"/><line x1="812" y1="1087" x2="812" y2="1100" class="ln"/>
<text class="s c b" x="783" y="1097" style="font-size:6px">call show_ne</text>
<line x1="819" y1="1093" x2="860" y2="1093" class="rd" marker-end="url(#ar)"/>
<path d="M867,1003 Q862,1003 862,1007 L862,1089 Q862,1093 859,1093 Q862,1093 862,1097 L862,1176 Q862,1180 867,1180" class="ln"/>
<ellipse cx="915" cy="1039" rx="39" ry="30" class="box"/>
<text class="s c" x="915" y="1028">(将所有寄存器状态存起<tspan x="915" dy="6.6">来)push</tspan><tspan x="915" dy="6.6">ax,bx,cx,dx,si,di,ds,es</tspan><tspan x="915" dy="6.6">(显示右移25)di+2*25</tspan><tspan x="915" dy="6.6">ds:[si+10]-&gt;ax</tspan><tspan x="915" dy="6.6">0-&gt;dx</tspan></text>
<line x1="915" y1="1069" x2="915" y2="1099" class="ln" marker-end="url(#ak)"/>
<rect x="879" y="1099" width="72" height="14" class="box"/>
<line x1="886" y1="1099" x2="886" y2="1113" class="ln"/><line x1="944" y1="1099" x2="944" y2="1113" class="ln"/>
<text class="s c b" x="915" y="1109" style="font-size:6px">call short_div</text>
<line x1="915" y1="1113" x2="915" y2="1131" class="ln" marker-end="url(#ak)"/>
<rect x="886" y="1131" width="57" height="23" rx="4" class="box"/>
<text class="s c" x="914.5" y="1138">(还原所有寄存器状<tspan x="914.5" dy="6.2">态)pop</tspan><tspan x="914.5" dy="6.2">ax,bx,cx,dx,si,di,ds,es</tspan></text>
<line x1="915" y1="1154" x2="915" y2="1176" class="ln" marker-end="url(#ak)"/>
<ellipse cx="915" cy="1183" rx="17" ry="7" class="box"/>
<text class="s c" x="915" y="1185">ret</text>
<polyline points="915,1190 915,1198 784,1198 784,1296" class="rd" marker-end="url(#ar)"/>

<rect x="744" y="1297" width="85" height="15" class="box"/>
<line x1="751" y1="1297" x2="751" y2="1312" class="ln"/><line x1="822" y1="1297" x2="822" y2="1312" class="ln"/>
<text class="s c b" x="786" y="1307.5" style="font-size:6px">call show_average</text>
<line x1="829" y1="1302" x2="858" y2="1302" class="ln" marker-end="url(#ak)"/>
<path d="M867,1212 Q862,1212 862,1216 L862,1298 Q862,1302 859,1302 Q862,1302 862,1306 L862,1386 Q862,1390 867,1390" class="ln"/>
<ellipse cx="915" cy="1245" rx="39" ry="33" class="box"/>
<text class="s c" x="915" y="1235">(将所有寄存器状态存起<tspan x="915" dy="6.4">来)push</tspan><tspan x="915" dy="6.4">ax,bx,cx,dx,si,di,ds,es</tspan><tspan x="915" dy="6.4">(显示右移30)di+2*30</tspan><tspan x="915" dy="6.4">ds:[si+13]-&gt;ax</tspan><tspan x="915" dy="6.4">0-&gt;dx</tspan></text>
<line x1="915" y1="1278" x2="915" y2="1309" class="ln" marker-end="url(#ak)"/>
<rect x="879" y="1309" width="72" height="15" class="box"/>
<line x1="886" y1="1309" x2="886" y2="1324" class="ln"/><line x1="944" y1="1309" x2="944" y2="1324" class="ln"/>
<text class="s c b" x="915" y="1319.5" style="font-size:6px">call short_div</text>
<line x1="915" y1="1324" x2="915" y2="1342" class="ln" marker-end="url(#ak)"/>
<rect x="886" y="1342" width="57" height="26" rx="4" class="box"/>
<text class="s c" x="914.5" y="1350">(还原所有寄存器状<tspan x="914.5" dy="6.4">态)pop</tspan><tspan x="914.5" dy="6.4">ax,bx,cx,dx,si,di,ds,es</tspan></text>
<line x1="915" y1="1368" x2="915" y2="1387" class="ln" marker-end="url(#ak)"/>
<ellipse cx="915" cy="1395" rx="17" ry="8" class="box"/>
<text class="s c" x="915" y="1397">ret</text>
<polyline points="915,1403 915,1416 785,1416 785,1431" class="rd" marker-end="url(#ar)"/>

<polyline points="951,895 970,895 970,1316 951,1316" class="ln"/>
<line x1="951" y1="1106" x2="970" y2="1106" class="ln"/>
<line x1="970" y1="963" x2="992" y2="963" class="ln" marker-end="url(#ak)"/>
<path d="M999,910 Q994,910 994,914 L994,959 Q994,963 991,963 Q994,963 994,967 L994,1011 Q994,1015 999,1015" class="ln"/>
<rect x="1013" y="910" width="57" height="44" rx="5" class="box"/>
<text class="s c" x="1041.5" y="917">10-&gt;cx<tspan x="1041.5" dy="6.4">div cx</tspan><tspan x="1041.5" dy="6.4">dl+30H-&gt;dl</tspan><tspan x="1041.5" dy="6.4">dl-&gt;es:[di]</tspan><tspan x="1041.5" dy="6.4">0001H-&gt;es:[di+1]</tspan><tspan x="1041.5" dy="6.4">ax-&gt;cx</tspan></text>
<rect x="1093" y="918" width="57" height="28" rx="4" class="box"/>
<text class="s c" x="1121.5" y="930">0-&gt;dx<tspan x="1121.5" dy="6.2">di-2-&gt;di</tspan></text>
<line x1="1093" y1="932" x2="1070" y2="932" class="ln" marker-end="url(#ak)"/>
<line x1="1043" y1="954" x2="1043" y2="970" class="ln" marker-end="url(#ak)"/>
<path d="M1010,981 L1043,970 L1076,981 L1043,992 Z" class="box"/>
<text class="s c" x="1043" y="983">(jcxz)CX=0?</text>
<polyline points="1076,981 1122,981 1122,946" class="ln" marker-end="url(#ak)"/>
<text class="s c" x="1117" y="983">N</text>
<line x1="1043" y1="992" x2="1043" y2="1010" class="ln" marker-end="url(#ak)"/>
<text class="s c" x="1043" y="1000">Y</text>
<ellipse cx="1043" cy="1017" rx="17" ry="7" class="box"/>
<text class="s c" x="1043" y="1019">ret</text>

<path d="M751,1443 L785,1431 L819,1443 L785,1455 Z" class="box"/>
<text class="s c" x="785" y="1445">CX=0?</text>
<line x1="751" y1="1443" x2="736" y2="1443" class="bl" marker-end="url(#ab)"/>
<text class="s c" x="744" y="1445">N</text>
<rect x="691" y="1433" width="45" height="19" rx="3" class="box"/>
<text class="s c" x="713.5" y="1441">SI+16-&gt;SI<tspan x="713.5" dy="6.2">di+160-&gt;di</tspan></text>
<line x1="785" y1="1455" x2="785" y2="1469" class="rd" marker-end="url(#ar)"/>
<text class="s c" x="785" y="1464">Y</text>
<ellipse cx="785" cy="1476" rx="17" ry="7.5" class="box"/>
<text class="s c" x="785" y="1478">ret</text>
<polyline points="785,1484 785,1508 671,1508 671,1528" class="rd" marker-end="url(#ar)"/>
<ellipse cx="671" cy="1549" rx="30" ry="21" class="box"/>
<text class="s c" x="671" y="1547">mov ax,4c00H<tspan x="671" dy="6.2">int 21H</tspan></text>
</svg>
</body></html>
